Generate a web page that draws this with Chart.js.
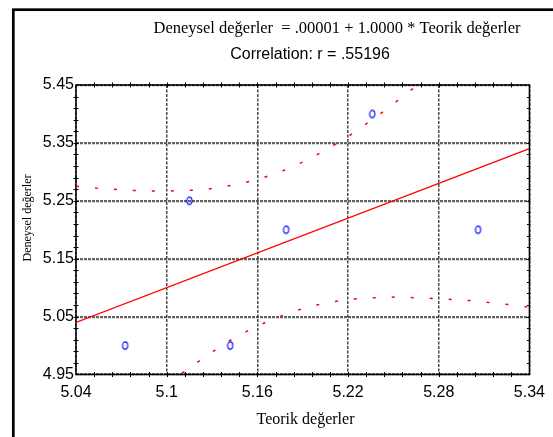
<!DOCTYPE html>
<html>
<head>
<meta charset="utf-8">
<script src="https://cdn.jsdelivr.net/npm/chart.js@4/dist/chart.umd.min.js"></script>
<style>
    body { margin: 0; background: #fff; }
    canvas { display: block; }
</style>
</head>
<body>
<canvas id="chart" width="553" height="437"></canvas>
<script>
// observed points (Teorik / Deneysel)
var teorik = [5.0725, 5.115, 5.142, 5.179, 5.236, 5.306];
var deneysel = [5.00, 5.25, 5.00, 5.20, 5.40, 5.20];

// fitted line, read at the plot edges
var fitX = [5.04, 5.34];
var fitY = [5.04, 5.34];

// dotted confidence limits
var upperX = [5.040, 5.053, 5.065, 5.078, 5.090, 5.102, 5.115, 5.127, 5.139, 5.151, 5.163, 5.175, 5.186, 5.197, 5.208, 5.219, 5.229, 5.239, 5.249, 5.258, 5.267];
var upperY = [5.275, 5.272, 5.270, 5.268, 5.267, 5.267, 5.268, 5.270, 5.275, 5.281, 5.289, 5.300, 5.312, 5.326, 5.342, 5.359, 5.377, 5.396, 5.415, 5.434, 5.452];
var lowerX = [5.110, 5.118, 5.128, 5.138, 5.149, 5.160, 5.171, 5.183, 5.194, 5.206, 5.219, 5.231, 5.243, 5.255, 5.268, 5.280, 5.292, 5.305, 5.317, 5.329, 5.340];
var lowerY = [4.952, 4.967, 4.985, 5.003, 5.019, 5.034, 5.046, 5.058, 5.067, 5.074, 5.079, 5.082, 5.083, 5.084, 5.082, 5.081, 5.079, 5.077, 5.073, 5.070, 5.066];

var xTicks = [5.04, 5.10, 5.16, 5.22, 5.28, 5.34];
var xTickLabels = ['5.04', '5.1', '5.16', '5.22', '5.28', '5.34'];
var yTicks = [4.95, 5.05, 5.15, 5.25, 5.35, 5.45];
var yTickLabels = ['4.95', '5.05', '5.15', '5.25', '5.35', '5.45'];
var xMinorStep = 0.012;
var yMinorStep = 0.02;

var titleText = 'Deneysel değerler  = .00001 + 1.0000 * Teorik değerler';
var subTitleText = 'Correlation: r = .55196';
var xTitle = 'Teorik değerler';
var yTitle = 'Deneysel değerler';

function pairs(xs, ys) {
    return xs.map(function (x, i) { return { x: x, y: ys[i] }; });
}

// little "o" marker like the original
function makeMarker() {
    var c = document.createElement('canvas');
    c.width = 9;
    c.height = 11;
    var g = c.getContext('2d');
    g.strokeStyle = '#0000ff';
    g.lineWidth = 1.1;
    g.beginPath();
    g.ellipse(4.5, 5.5, 2.6, 3.6, 0, 0, Math.PI * 2);
    g.stroke();
    return c;
}

var framePlugin = {
    id: 'frame',
    beforeDraw: function (chart) {
        var ctx = chart.ctx;
        ctx.save();
        ctx.fillStyle = '#fff';
        ctx.fillRect(0, 0, chart.width, chart.height);
        ctx.strokeStyle = '#000';
        ctx.lineWidth = 2.7;
        ctx.strokeRect(13.3, 9.7, 700, 600);
        ctx.restore();
    },
    beforeDatasetsDraw: function (chart) {
        var ctx = chart.ctx;
        var a = chart.chartArea;
        var xs = chart.scales.x;
        var ys = chart.scales.y;
        ctx.save();
        ctx.strokeStyle = '#000';
        ctx.lineWidth = 1.5;
        ctx.strokeRect(a.left, a.top, a.right - a.left, a.bottom - a.top);
        ctx.lineWidth = 1;
        ctx.beginPath();
        var n = Math.round((xs.max - xs.min) / xMinorStep);
        for (var i = 1; i < n; i++) {
            var px = Math.round(xs.getPixelForValue(xs.min + i * xMinorStep)) + 0.5;
            ctx.moveTo(px, a.bottom - 2.5); ctx.lineTo(px, a.bottom + 2.5);
            ctx.moveTo(px, a.top - 2.5); ctx.lineTo(px, a.top + 2.5);
        }
        var m = Math.round((ys.max - ys.min) / yMinorStep);
        for (var j = 1; j < m; j++) {
            var py = Math.round(ys.getPixelForValue(ys.min + j * yMinorStep)) + 0.5;
            ctx.moveTo(a.left - 2.5, py); ctx.lineTo(a.left + 2.5, py);
            ctx.moveTo(a.right - 2.5, py); ctx.lineTo(a.right + 1, py);
        }
        ctx.stroke();
        ctx.restore();
    },
    afterDraw: function (chart) {
        var ctx = chart.ctx;
        ctx.save();
        ctx.fillStyle = '#000';
        ctx.textAlign = 'center';
        ctx.textBaseline = 'middle';
        ctx.font = '16.5px "Liberation Serif", "Times New Roman", serif';
        ctx.fillText(titleText, 337, 29);
        ctx.font = '16px "Liberation Sans", Arial, sans-serif';
        ctx.fillText(subTitleText, 310, 55);
        ctx.font = '16px "Liberation Serif", "Times New Roman", serif';
        ctx.fillText(xTitle, 305.5, 420);
        ctx.translate(27.5, 218);
        ctx.rotate(-Math.PI / 2);
        ctx.font = '12px "Liberation Serif", "Times New Roman", serif';
        ctx.fillText(yTitle, 0, 0);
        ctx.restore();
    }
};

var ctx = document.getElementById('chart');
var myChart = new Chart(ctx, {
    type: 'scatter',
    data: {
        datasets: [
            {
                label: 'fit',
                data: pairs(fitX, fitY),
                showLine: true,
                borderColor: '#ff0000',
                borderWidth: 1.3,
                pointRadius: 0
            },
            {
                label: 'upper',
                data: pairs(upperX, upperY),
                showLine: true,
                borderColor: '#ff0000',
                borderWidth: 1.5,
                borderDash: [3, 16],
                pointRadius: 0
            },
            {
                label: 'lower',
                data: pairs(lowerX, lowerY),
                showLine: true,
                borderColor: '#ff0000',
                borderWidth: 1.5,
                borderDash: [3, 16],
                pointRadius: 0
            },
            {
                label: 'data',
                data: pairs(teorik, deneysel),
                pointStyle: makeMarker(),
                pointRadius: 5
            }
        ]
    },
    options: {
        responsive: false,
        animation: false,
        devicePixelRatio: 1,
        layout: { padding: { top: 85, right: 21, left: 0, bottom: 0 } },
        plugins: {
            legend: { display: false },
            tooltip: { enabled: false }
        },
        scales: {
            x: {
                type: 'linear',
                min: 5.04,
                max: 5.34,
                afterBuildTicks: function (scale) {
                    scale.ticks = xTicks.map(function (v) { return { value: v }; });
                },
                afterFit: function (scale) { scale.height = 62.5; },
                ticks: {
                    autoSkip: false,
                    maxRotation: 0,
                    padding: 8,
                    color: '#000',
                    font: { family: '"Liberation Sans", Arial, sans-serif', size: 16 },
                    callback: function (v, i) { return xTickLabels[i]; }
                },
                grid: { color: 'rgba(40,40,40,0.85)', lineWidth: 1.5, drawTicks: false },
                border: { display: false, dash: [3, 1.5] }
            },
            y: {
                type: 'linear',
                min: 4.95,
                max: 5.45,
                afterBuildTicks: function (scale) {
                    scale.ticks = yTicks.map(function (v) { return { value: v }; });
                },
                afterFit: function (scale) { scale.width = 76; },
                ticks: {
                    autoSkip: false,
                    padding: 2,
                    color: '#000',
                    font: { family: '"Liberation Sans", Arial, sans-serif', size: 16 },
                    callback: function (v, i) { return yTickLabels[i]; }
                },
                grid: { color: 'rgba(60,60,60,0.8)', lineWidth: 2.2, drawTicks: false },
                border: { display: false, dash: [3, 1] }
            }
        }
    },
    plugins: [framePlugin]
});
</script>
</body>
</html>
